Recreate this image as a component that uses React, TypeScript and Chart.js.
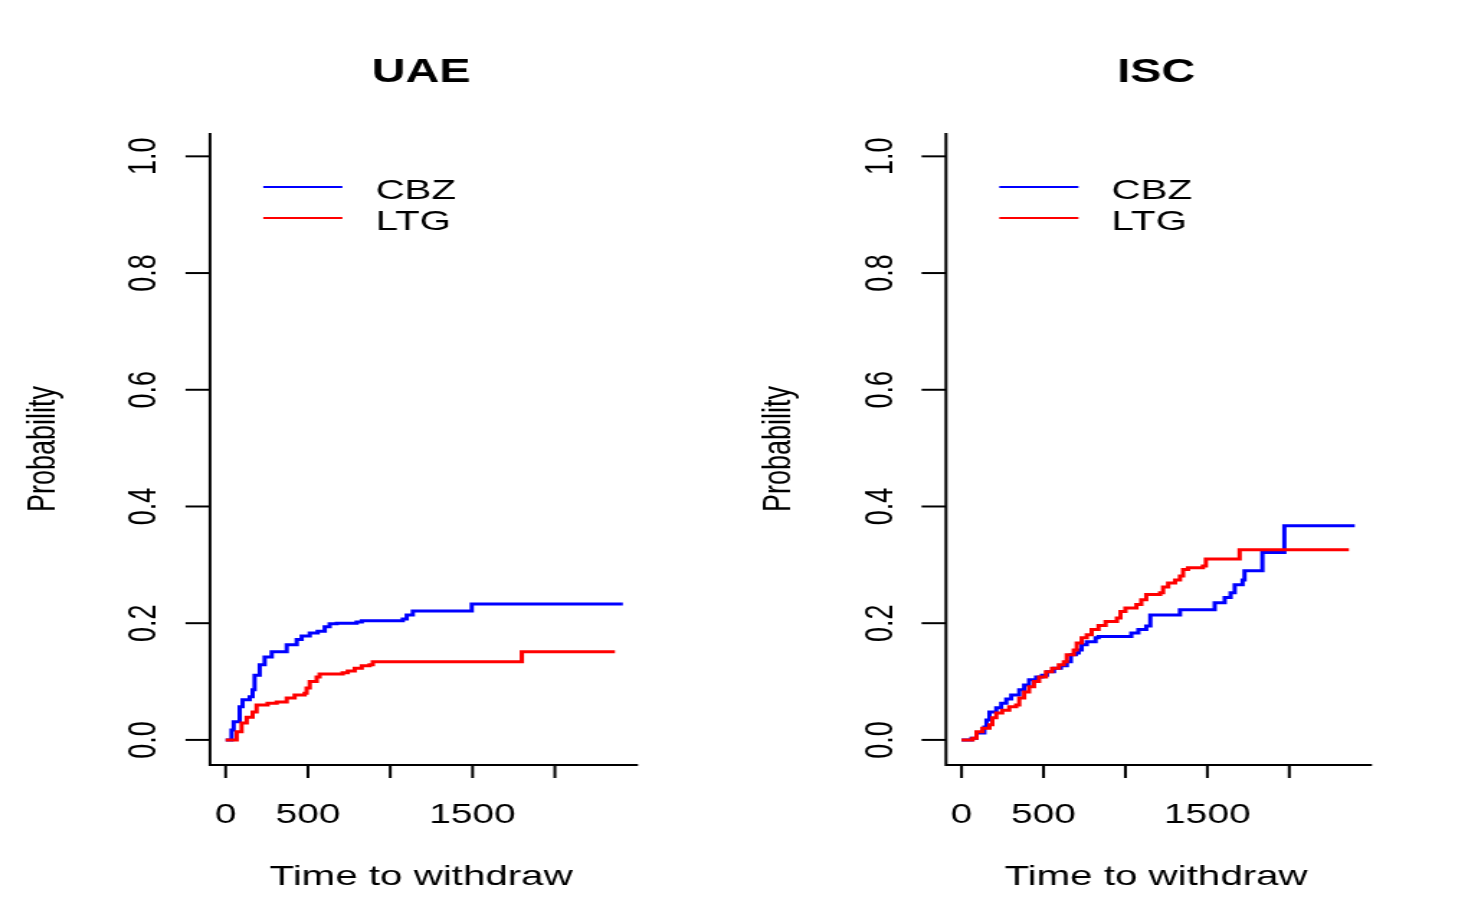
import React, { useEffect, useRef } from 'react';
import { Chart, registerables } from 'chart.js';

Chart.register(...registerables);

// ---------- data ----------
const seriesNames = ['CBZ', 'LTG'];
const seriesColors = ['#0000FF', '#FF0000'];
const panelTitles = ['UAE', 'ISC'];

const uaeCbzTime = [0, 36, 49, 85, 103, 146, 164, 176, 207, 237, 280, 371, 432, 462, 511, 559, 602, 632, 675, 796, 827, 1076, 1100, 1137, 1495, 2413];
const uaeCbzProb = [0, 0.017, 0.031, 0.057, 0.069, 0.074, 0.086, 0.111, 0.129, 0.142, 0.151, 0.163, 0.172, 0.178, 0.183, 0.186, 0.194, 0.199, 0.2, 0.202, 0.204, 0.207, 0.214, 0.221, 0.233, 0.233];

const uaeLtgTime = [0, 67, 97, 128, 164, 188, 255, 310, 371, 419, 480, 492, 511, 553, 571, 711, 742, 784, 827, 875, 894, 1799, 2365];
const uaeLtgProb = [0, 0.014, 0.029, 0.039, 0.048, 0.06, 0.063, 0.065, 0.072, 0.077, 0.08, 0.089, 0.1, 0.108, 0.113, 0.115, 0.118, 0.123, 0.127, 0.129, 0.134, 0.151, 0.151];

const iscCbzTime = [0, 61, 91, 139, 152, 170, 212, 242, 273, 303, 352, 382, 412, 455, 491, 521, 564, 606, 642, 667, 697, 715, 733, 764, 818, 836, 1036, 1079, 1127, 1152, 1333, 1545, 1606, 1642, 1667, 1715, 1727, 1836, 1970, 2400];
const iscCbzProb = [0, 0.003, 0.012, 0.022, 0.034, 0.048, 0.055, 0.063, 0.07, 0.077, 0.086, 0.094, 0.103, 0.108, 0.111, 0.117, 0.123, 0.127, 0.134, 0.146, 0.149, 0.154, 0.163, 0.168, 0.175, 0.177, 0.183, 0.189, 0.195, 0.214, 0.223, 0.235, 0.244, 0.252, 0.266, 0.274, 0.29, 0.321, 0.367, 0.367];

const iscLtgTime = [0, 67, 91, 127, 170, 188, 212, 248, 291, 333, 352, 382, 412, 442, 473, 515, 552, 594, 624, 642, 685, 703, 733, 764, 794, 836, 879, 948, 970, 1000, 1067, 1097, 1127, 1212, 1230, 1261, 1303, 1333, 1352, 1382, 1473, 1491, 1697, 2364];
const iscLtgProb = [0, 0.003, 0.014, 0.02, 0.026, 0.038, 0.046, 0.051, 0.057, 0.06, 0.072, 0.082, 0.091, 0.1, 0.108, 0.117, 0.123, 0.129, 0.134, 0.146, 0.154, 0.166, 0.175, 0.18, 0.189, 0.196, 0.203, 0.209, 0.22, 0.226, 0.232, 0.24, 0.249, 0.252, 0.262, 0.269, 0.274, 0.281, 0.292, 0.295, 0.298, 0.31, 0.326, 0.326];

const xTickValues = [0, 500, 1000, 1500, 2000];
const xTickLabels = ['0', '500', '', '1500', ''];
const yTickValues = [0, 0.2, 0.4, 0.6, 0.8, 1.0];
const yTickLabels = ['0.0', '0.2', '0.4', '0.6', '0.8', '1.0'];
const xAxisTitle = 'Time to withdraw';
const yAxisTitle = 'Probability';

// ---------- layout ----------
const CANVAS_W = 510; // internal width, displayed stretched to 734px
const DISPLAY_W = 734;
const H = 916;
const FONT = '"Liberation Sans", Arial, Helvetica, sans-serif';

function drawText(ctx: CanvasRenderingContext2D, s: string, x: number, y: number, font: string, align: CanvasTextAlign, rotate = false) {
  ctx.save();
  ctx.font = font;
  ctx.textAlign = align;
  ctx.textBaseline = 'alphabetic';
  ctx.fillStyle = '#000';
  ctx.translate(x, y);
  if (rotate) ctx.rotate(-Math.PI / 2);
  ctx.fillText(s, 0, 0);
  ctx.restore();
}

function makeRPlugin(title: string) {
  return {
    id: 'rBasePlot',
    afterDraw(chart: any) {
      const ctx: CanvasRenderingContext2D = chart.ctx;
      const a = chart.chartArea;
      const xs = chart.scales.x;
      const ys = chart.scales.y;
      ctx.save();
      ctx.strokeStyle = '#000';
      ctx.lineWidth = 2;
      ctx.lineCap = 'butt';
      // L-shaped box
      ctx.beginPath();
      ctx.moveTo(a.left, a.top);
      ctx.lineTo(a.left, a.bottom);
      ctx.lineTo(a.right, a.bottom);
      ctx.stroke();
      // y ticks
      yTickValues.forEach((v, i) => {
        const py = ys.getPixelForValue(v);
        ctx.beginPath();
        ctx.moveTo(a.left - 17, py);
        ctx.lineTo(a.left, py);
        ctx.stroke();
        drawText(ctx, yTickLabels[i], a.left - 37.5, py, `27px ${FONT}`, 'center', true);
      });
      // x ticks
      xTickValues.forEach((v, i) => {
        const px = xs.getPixelForValue(v);
        ctx.beginPath();
        ctx.moveTo(px, a.bottom);
        ctx.lineTo(px, a.bottom + 13);
        ctx.stroke();
        if (xTickLabels[i]) drawText(ctx, xTickLabels[i], px, 823, `27px ${FONT}`, 'center');
      });
      const cx = (a.left + a.right) / 2 - 2;
      // title and axis titles
      drawText(ctx, title, cx, 82, `bold 32.5px ${FONT}`, 'center');
      drawText(ctx, xAxisTitle, cx, 885, `28px ${FONT}`, 'center');
      drawText(ctx, yAxisTitle, a.left - 108.4, (a.top + a.bottom) / 2, `27px ${FONT}`, 'center', true);
      // legend
      seriesNames.forEach((name, i) => {
        const ly = 187 + i * 31;
        ctx.strokeStyle = seriesColors[i];
        ctx.lineWidth = 2;
        ctx.beginPath();
        ctx.moveTo(a.left + 37, ly);
        ctx.lineTo(a.left + 92, ly);
        ctx.stroke();
        drawText(ctx, name, a.left + 115, 199 + i * 31, `28px ${FONT}`, 'left');
      });
      ctx.restore();
    },
  };
}

type PanelProps = {
  left: number;
  padLeft: number;
  title: string;
  cbzT: number[];
  cbzP: number[];
  ltgT: number[];
  ltgP: number[];
};

function Panel({ left, padLeft, title, cbzT, cbzP, ltgT, ltgP }: PanelProps) {
  const ref = useRef<HTMLCanvasElement>(null);
  useEffect(() => {
    if (!ref.current) return;
    const chart = new Chart(ref.current, {
      type: 'line',
      data: {
        datasets: [
          {
            label: seriesNames[0],
            data: cbzT.map((t, i) => ({ x: t, y: cbzP[i] })),
            borderColor: seriesColors[0],
            backgroundColor: seriesColors[0],
            borderWidth: 3,
            stepped: true,
            pointRadius: 0,
            fill: false,
            order: 1,
          },
          {
            label: seriesNames[1],
            data: ltgT.map((t, i) => ({ x: t, y: ltgP[i] })),
            borderColor: seriesColors[1],
            backgroundColor: seriesColors[1],
            borderWidth: 3,
            stepped: true,
            pointRadius: 0,
            fill: false,
            order: 0,
          },
        ],
      },
      options: {
        animation: false,
        responsive: false,
        devicePixelRatio: 1,
        events: [],
        layout: { padding: { left: padLeft, right: CANVAS_W - 443.3, top: 133, bottom: H - 765 } },
        scales: {
          x: { type: 'linear', display: false, min: -95, max: 2505 },
          y: { type: 'linear', display: false, min: -0.043, max: 1.04 },
        },
        plugins: { legend: { display: false }, tooltip: { enabled: false }, title: { display: false } },
      },
      plugins: [makeRPlugin(title)],
    } as any);
    return () => chart.destroy();
  }, []);
  return (
    <canvas
      ref={ref}
      width={CANVAS_W}
      height={H}
      style={{ position: 'absolute', left, top: 0, width: `${DISPLAY_W}px`, height: `${H}px` }}
    />
  );
}

export default function App() {
  return (
    <div style={{ position: 'absolute', left: 0, top: 0, width: 1468, height: H, overflow: 'hidden', background: '#fff' }}>
      <Panel left={0} padLeft={145.9} title={panelTitles[0]} cbzT={uaeCbzTime} cbzP={uaeCbzProb} ltgT={uaeLtgTime} ltgP={uaeLtgProb} />
      <Panel left={734} padLeft={147.3} title={panelTitles[1]} cbzT={iscCbzTime} cbzP={iscCbzProb} ltgT={iscLtgTime} ltgP={iscLtgProb} />
    </div>
  );
}
